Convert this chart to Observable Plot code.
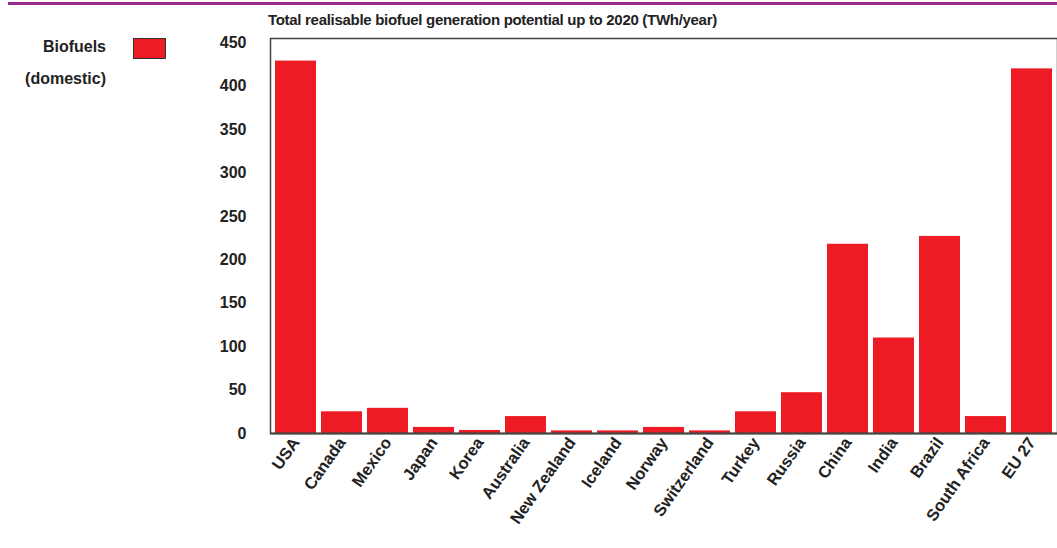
<!DOCTYPE html>
<html><head><meta charset="utf-8">
<script src="https://cdn.jsdelivr.net/npm/d3@7"></script>
<script src="https://cdn.jsdelivr.net/npm/@observablehq/plot@0.6"></script>
<style>
body{margin:0;background:#fff;font-family:"Liberation Sans Narrow","Liberation Sans",Arial,sans-serif;}
#wrap{position:relative;width:1057px;height:548px;}
#topline{position:absolute;left:8px;top:2px;width:1049px;height:3px;background:#9b2a8f;}
#title{position:absolute;left:268px;top:11px;font-size:15px;font-weight:bold;color:#222;letter-spacing:-0.3px;}
#legtext{position:absolute;left:0;top:31px;width:106px;text-align:right;font-size:16px;font-weight:bold;line-height:32px;color:#222;}
#legsw{position:absolute;left:133px;top:38px;width:31px;height:19px;background:#ed1c24;border:1.5px solid #333;}
#chart{position:absolute;left:0;top:0;}
#chart svg g[aria-label="x-axis tick label"] text{font-size:16.5px;}
</style></head><body>
<div id="wrap">
<div id="chart"></div>
<div id="topline"></div>
<div id="title">Total realisable biofuel generation potential up to 2020 (TWh/year)</div>
<div id="legtext">Biofuels<br>(domestic)</div>
<div id="legsw"></div>
</div>
<script>
const countries = ["USA","Canada","Mexico","Japan","Korea","Australia","New Zealand","Iceland","Norway","Switzerland","Turkey","Russia","China","India","Brazil","South Africa","EU 27"];
const biofuels = [429,25,29,7,3.5,19.5,3,3,7,3,25,47,218,110,227,19.5,420];
const yTicks = [0,50,100,150,200,250,300,350,400,450];

const data = countries.map((c,i)=>({country:c, value:biofuels[i]}));

const chart = Plot.plot({
  width:1057, height:548,
  marginLeft:270, marginRight:0, marginTop:38, marginBottom:115,
  style:{fontFamily:'"Liberation Sans Narrow","Liberation Sans",Arial,sans-serif', fontSize:"16px", fontWeight:"bold", color:"#222", background:"transparent"},
  x:{domain:countries, paddingInner:0.1, paddingOuter:0.03, label:null, tickSize:0, tickPadding:6, tickRotate:-55},
  y:{domain:[0,455], ticks:yTicks, label:null, tickSize:0, tickPadding:24},
  marks:[
    Plot.barY(data,{x:"country", y:"value", fill:"#ed1c24"}),
    Plot.frame({stroke:"#444", strokeWidth:1.5}),
    Plot.ruleY([0],{stroke:"#444", strokeWidth:2})
  ]
});
document.getElementById("chart").appendChild(chart);
</script>
</body></html>
